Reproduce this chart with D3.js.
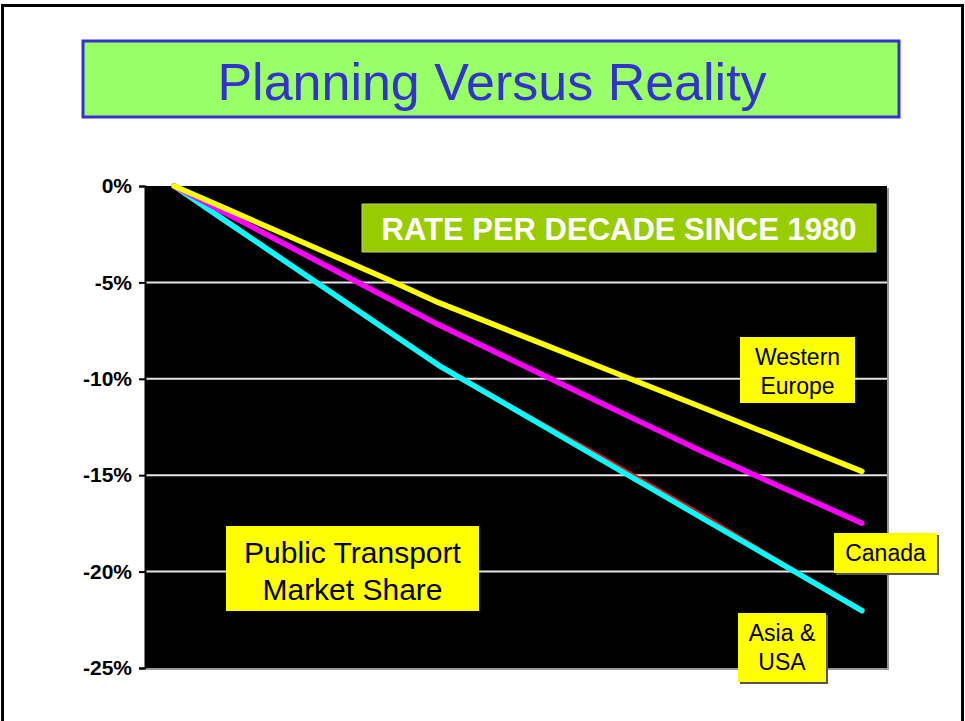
<!DOCTYPE html>
<html>
<head>
    <meta charset="utf-8" />
    <title>Planning Versus Reality</title>
    <script src="https://cdn.jsdelivr.net/npm/d3@7"></script>
    <style>
        body { margin: 0; background: #fff; }
        svg { display: block; font-family: Arial, "Liberation Sans", sans-serif; }
        .axis text { font-weight: bold; font-size: 21px; fill: #000; }
        .axis line { stroke: #000; stroke-width: 2px; }
        .axis path { stroke: #000; stroke-width: 2px; }
        .grid line { stroke: #e6e6e6; stroke-width: 2px; }
        .series { fill: none; stroke-width: 5.5px; stroke-linecap: round; stroke-linejoin: round; }
        .tag rect { fill: #ffff00; }
        .tag text { fill: #000; font-size: 23px; text-anchor: middle; }
    </style>
</head>
<body>
<div id="vis"></div>
<script>
    // decade steps since 1980 (x axis is not labelled on the slide)
    var steps = [0, 1, 2, 3, 4, 5, 6, 7, 8, 9, 10, 11, 12, 13];

    var westernEurope = [0, -1.2, -2.4, -3.6, -4.8, -6.05, -7.14, -8.23, -9.32, -10.41, -11.5, -12.6, -13.7, -14.8];
    var canada = [0, -1.44, -2.88, -4.32, -5.76, -7.2, -8.52, -9.84, -11.16, -12.48, -13.8, -15.03, -16.26, -17.49];
    var usa = [0, -1.86, -3.72, -5.58, -7.44, -9.3, -10.89, -12.43, -13.97, -15.55, -17.14, -18.78, -20.43, -22.02];
    var asia = [0, -1.86, -3.72, -5.58, -7.44, -9.3, -10.89, -12.48, -14.07, -15.66, -17.25, -18.84, -20.43, -22.02];

    var yTicks = [0, -5, -10, -15, -20, -25];
    var gridTicks = [-5, -10, -15, -20];

    var width = 965,
        height = 721;

    var plot = { left: 145, right: 887, top: 186, bottom: 668 };

    var svg = d3.select("#vis").append("svg")
        .attr("width", width)
        .attr("height", height);

    // slide frame
    svg.append("rect")
        .attr("x", 2.5)
        .attr("y", 5.5)
        .attr("width", 960)
        .attr("height", 730)
        .attr("fill", "#fff")
        .attr("stroke", "#000")
        .attr("stroke-width", 3);

    // title
    svg.append("rect")
        .attr("x", 83)
        .attr("y", 41)
        .attr("width", 816)
        .attr("height", 76)
        .attr("fill", "#99ff66")
        .attr("stroke", "#3333cc")
        .attr("stroke-width", 3);

    svg.append("text")
        .attr("x", 492)
        .attr("y", 100)
        .attr("text-anchor", "middle")
        .attr("font-size", 52)
        .attr("fill", "#3333cc")
        .text("Planning Versus Reality");

    var x = d3.scalePoint()
        .domain(steps)
        .range([plot.left, plot.right + 4])
        .padding(0.55);

    var y = d3.scaleLinear()
        .domain([-25, 0])
        .range([plot.bottom, plot.top]);

    // plot area with its shadow
    svg.append("rect")
        .attr("x", plot.left + 2)
        .attr("y", plot.top + 2)
        .attr("width", plot.right - plot.left)
        .attr("height", plot.bottom - plot.top)
        .attr("fill", "#999");

    svg.append("rect")
        .attr("x", plot.left)
        .attr("y", plot.top)
        .attr("width", plot.right - plot.left)
        .attr("height", plot.bottom - plot.top)
        .attr("fill", "#000");

    svg.append("g")
        .attr("class", "grid")
        .selectAll("line")
        .data(gridTicks)
        .enter().append("line")
        .attr("x1", plot.left)
        .attr("x2", plot.right)
        .attr("y1", function(d) { return y(d); })
        .attr("y2", function(d) { return y(d); });

    svg.append("g")
        .attr("class", "axis")
        .attr("transform", "translate(" + plot.left + ",0)")
        .call(d3.axisLeft(y)
            .tickValues(yTicks)
            .tickSize(6)
            .tickPadding(7)
            .tickFormat(function(d) { return d + "%"; }));

    var line = d3.line()
        .x(function(d, i) { return x(steps[i]); })
        .y(function(d) { return y(d); });

    var series = [
        { values: usa, color: "#ff0000" },
        { values: asia, color: "#00ffff" },
        { values: canada, color: "#ff00ff" },
        { values: westernEurope, color: "#ffff00" }
    ];

    svg.append("g")
        .selectAll("path")
        .data(series)
        .enter().append("path")
        .attr("class", "series")
        .attr("stroke", function(d) { return d.color; })
        .attr("d", function(d) { return line(d.values); });

    // heading box
    svg.append("rect")
        .attr("x", 362)
        .attr("y", 204)
        .attr("width", 514)
        .attr("height", 48)
        .attr("fill", "#99cc00")
        .attr("stroke", "#b8cc88")
        .attr("stroke-width", 1);

    svg.append("text")
        .attr("x", 619)
        .attr("y", 240)
        .attr("text-anchor", "middle")
        .attr("font-size", 31)
        .attr("font-weight", "bold")
        .attr("fill", "#fff")
        .text("RATE PER DECADE SINCE 1980");

    // text boxes
    function tag(x0, y0, w, h, lines, baseline, lineGap, size, shadow) {
        var g = svg.append("g").attr("class", "tag");
        if (shadow) {
            g.append("rect")
                .attr("x", x0 + 2)
                .attr("y", y0 + 2)
                .attr("width", w)
                .attr("height", h)
                .style("fill", "#555");
        }
        g.append("rect")
            .attr("x", x0)
            .attr("y", y0)
            .attr("width", w)
            .attr("height", h);
        g.selectAll("text")
            .data(lines)
            .enter().append("text")
            .attr("x", x0 + w / 2)
            .attr("y", function(d, i) { return baseline + i * lineGap; })
            .style("font-size", size + "px")
            .text(function(d) { return d; });
    }

    tag(740, 337, 115, 66, ["Western", "Europe"], 365, 29, 23, false);
    tag(834, 533, 103, 40, ["Canada"], 561, 0, 23, true);
    tag(738, 613, 88, 69, ["Asia &", "USA"], 641, 29, 23, true);
    tag(226, 526, 253, 85, ["Public Transport", "Market Share"], 563, 37, 30, false);
</script>
</body>
</html>
